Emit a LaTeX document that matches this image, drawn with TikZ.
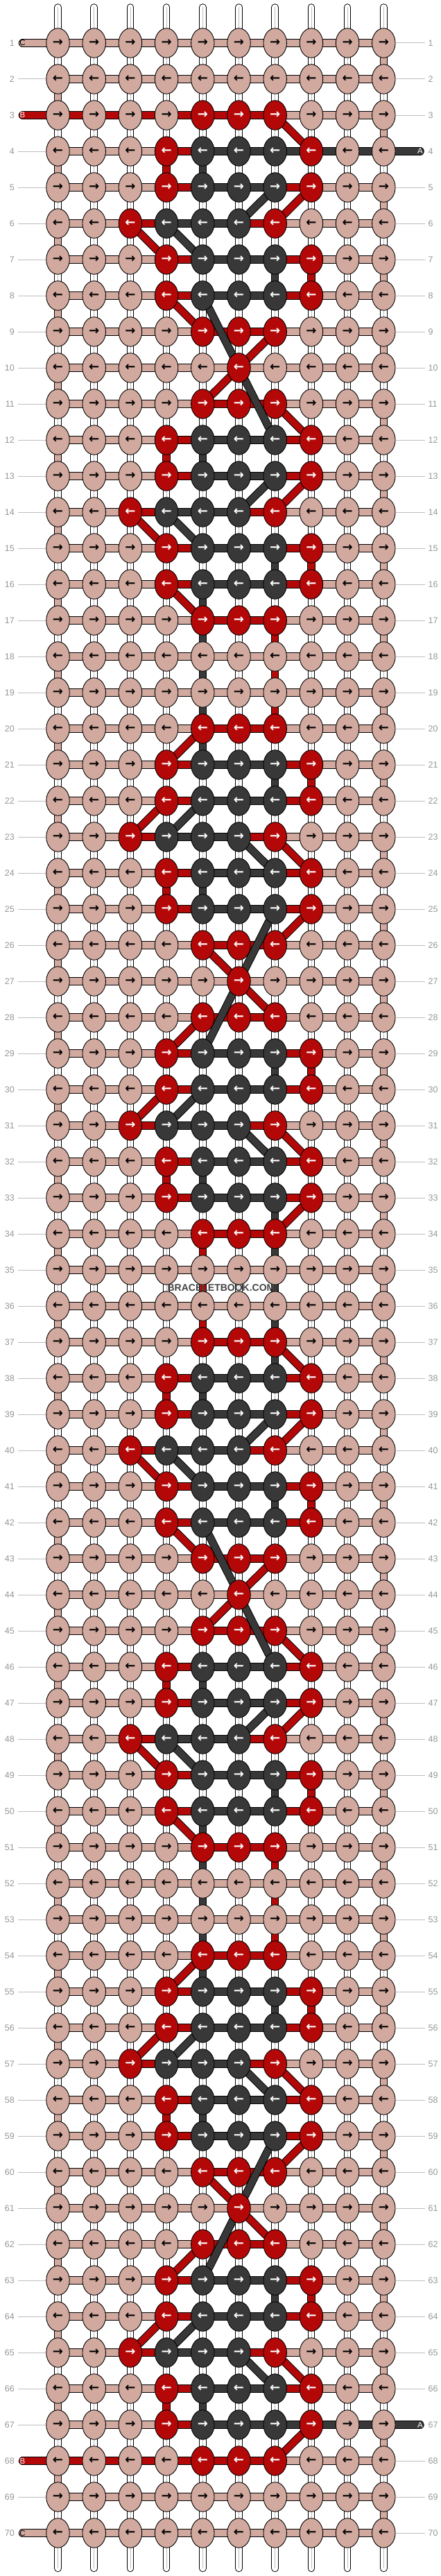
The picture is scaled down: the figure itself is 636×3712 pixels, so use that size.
\documentclass[tikz,border=0pt]{standalone}
\usepackage{fontspec}
\setmainfont{Liberation Sans}
\newfontfamily\arrowfont{DejaVu Sans}
\usepackage{tikz}
\usetikzlibrary{shapes.geometric}

\definecolor{cordT}{RGB}{209,169,159}
\definecolor{cordR}{RGB}{180,8,8}
\definecolor{cordD}{RGB}{56,56,56}
\colorlet{inkT}{black}
\colorlet{inkR}{white}
\colorlet{inkD}{white}
\definecolor{rowgray}{RGB}{150,150,150}
\definecolor{linegray}{RGB}{190,190,190}
\definecolor{markgray}{RGB}{68,68,68}

\pgfdeclarelayer{warps}
\pgfdeclarelayer{cords}
\pgfsetlayers{warps,cords,main}

\newcount\knotno
\def\readknots#1{\ifx#1.\else
  \global\advance\knotno by 1
  \expandafter\xdef\csname kc\r-\the\knotno\endcsname{#1}%
  \expandafter\readknots\fi}
\def\tagT{C}\def\tagR{B}\def\tagD{A}

\begin{document}
\begin{tikzpicture}[x=1pt,y=-1pt,
    knot/.style={ellipse,draw=black,line width=0.9pt,fill=cord#1,text=ink#1,
      minimum width=33.5pt,minimum height=42.5pt,inner sep=0pt,
      font=\arrowfont\bfseries\fontsize{18}{18}\selectfont},
    cord/.style={draw=black,line width=1pt,double=cord#1,double distance=9.5pt,line cap=round},
    warp/.style={draw=black,line width=1pt,double=white,double distance=8.5pt,line cap=round},
    warpmid/.style={draw=linegray,line width=0.8pt},
    rowline/.style={draw=linegray,line width=1pt},
    rowno/.style={text=rowgray,inner sep=0pt,font=\fontsize{12.5}{13}\selectfont},
    ropetag/.style={text=ink#1,inner sep=0pt,font=\fontsize{11.5}{12}\selectfont}]
  \useasboundingbox (0,0) rectangle (636,3712);

  \foreach \pat [count=\r] in {
    TTTTTTTTTT,TTTTTTTTTT,TTTTRRRTTT,TTTRDDDRTT,TTTRDDDRTT,TTRDDDRTTT,TTTRDDDRTT,TTTRDDDRTT,TTTTRRRTTT,TTTTTRTTTT,
    TTTTRRRTTT,TTTRDDDRTT,TTTRDDDRTT,TTRDDDRTTT,TTTRDDDRTT,TTTRDDDRTT,TTTTRRRTTT,TTTTTTTTTT,TTTTTTTTTT,TTTTRRRTTT,
    TTTRDDDRTT,TTTRDDDRTT,TTRDDDRTTT,TTTRDDDRTT,TTTRDDDRTT,TTTTRRRTTT,TTTTTRTTTT,TTTTRRRTTT,TTTRDDDRTT,TTTRDDDRTT,
    TTRDDDRTTT,TTTRDDDRTT,TTTRDDDRTT,TTTTRRRTTT,TTTTTTTTTT,TTTTTTTTTT,TTTTRRRTTT,TTTRDDDRTT,TTTRDDDRTT,TTRDDDRTTT,
    TTTRDDDRTT,TTTRDDDRTT,TTTTRRRTTT,TTTTTRTTTT,TTTTRRRTTT,TTTRDDDRTT,TTTRDDDRTT,TTRDDDRTTT,TTTRDDDRTT,TTTRDDDRTT,
    TTTTRRRTTT,TTTTTTTTTT,TTTTTTTTTT,TTTTRRRTTT,TTTRDDDRTT,TTTRDDDRTT,TTRDDDRTTT,TTTRDDDRTT,TTTRDDDRTT,TTTTRRRTTT,
    TTTTTRTTTT,TTTTRRRTTT,TTTRDDDRTT,TTTRDDDRTT,TTRDDDRTTT,TTTRDDDRTT,TTTRDDDRTT,TTTTRRRTTT,TTTTTTTTTT,TTTTTTTTTT
  } {
    \global\knotno=0
    \expandafter\readknots\pat.
    \ifodd\r\relax\def\arr{→}\else\def\arr{←}\fi
    \foreach \c in {1,...,10} {
      \edef\kc{\csname kc\r-\c\endcsname}
      \node[knot=\kc] (k\r-\c) at ({83.5+52.2*(\c-1)},{62+52*(\r-1)}) {\arr};
    }
    \node[rowno,anchor=east] (lbl-l-\r) at (21,{62+52*(\r-1)}) {\r};
    \node[rowno,anchor=west] (lbl-r-\r) at (617.5,{62+52*(\r-1)}) {\r};
    \coordinate (edge-l-\r) at (32.5,{62+52*(\r-1)});
    \coordinate (edge-r-\r) at (606,{62+52*(\r-1)});
  }

  \node[font=\bfseries\fontsize{14}{14}\selectfont,text=markgray] (mark) at (319,1856) {BRACELETBOOK.COM};

  \begin{pgfonlayer}{warps}
    \foreach \c in {1,...,10} {
      \coordinate (top-\c) at ({83.5+52.2*(\c-1)},10.5);
      \coordinate (bot-\c) at ({83.5+52.2*(\c-1)},3701);
      \draw[warp] (top-\c) -- (bot-\c);
      \draw[warpmid] (top-\c) -- (bot-\c);
    }
    \foreach \r in {2,4,5,...,67,69}
      \draw[rowline,shorten <=5pt] (lbl-l-\r.east) -- (k\r-1.west);
    \foreach \r in {1,2,3,5,6,...,66,68,69,70}
      \draw[rowline,shorten >=5pt] (k\r-10.east) -- (lbl-r-\r.west);
  \end{pgfonlayer}

  \begin{pgfonlayer}{cords}
    \foreach \X in {T,R,D} {
      \gdef\lastknot{}
      \foreach \r in {1,...,70} {
        \gdef\first{}\gdef\lst{}
        \foreach \c in {1,...,10} {
          \edef\cc{\ifodd\numexpr\r\relax \c\else\the\numexpr11-\c\relax\fi}%
          \if\csname kc\r-\cc\endcsname\X
            \ifx\first\empty\xdef\first{\cc}\fi
            \xdef\lst{\cc}%
          \fi
        }
        \ifx\first\empty\else
          \ifx\lastknot\empty
            \ifodd\r\relax
              \draw[cord=\X] (edge-l-\r) -- (k\r-\first);
              \node[ropetag=\X] (tag-\X-in) at (edge-l-\r) {\csname tag\X\endcsname};
            \else
              \draw[cord=\X] (edge-r-\r) -- (k\r-\first);
              \node[ropetag=\X] (tag-\X-in) at (edge-r-\r) {\csname tag\X\endcsname};
            \fi
          \else
            \draw[cord=\X] (k\lastknot) -- (k\r-\first);
          \fi
          \draw[cord=\X] (k\r-\first) -- (k\r-\lst);
          \xdef\lastknot{\r-\lst}
          \xdef\lastrow{\r}
        \fi
      }
      \ifodd\lastrow\relax
        \draw[cord=\X] (k\lastknot) -- (edge-r-\lastrow);
        \node[ropetag=\X] (tag-\X-out) at (edge-r-\lastrow) {\csname tag\X\endcsname};
      \else
        \draw[cord=\X] (k\lastknot) -- (edge-l-\lastrow);
        \node[ropetag=\X] (tag-\X-out) at (edge-l-\lastrow) {\csname tag\X\endcsname};
      \fi
    }
  \end{pgfonlayer}
\end{tikzpicture}
\end{document}
